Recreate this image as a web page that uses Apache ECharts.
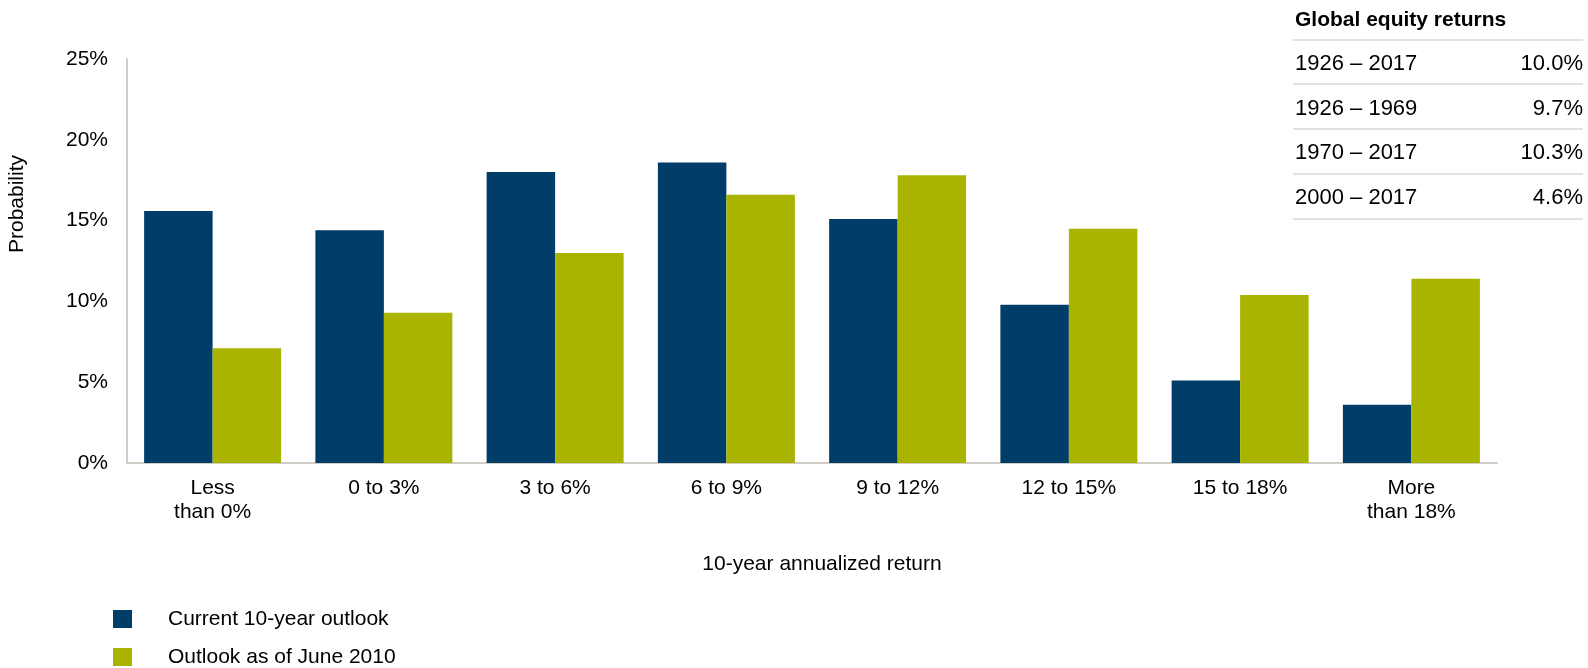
<!DOCTYPE html>
<html>
<head>
<meta charset="utf-8">
<script src="https://cdn.jsdelivr.net/npm/echarts@6/dist/echarts.min.js"></script>
<style>
html,body{margin:0;padding:0;background:#fff;}
#chart{width:1588px;height:668px;}
</style>
</head>
<body>
<div id="chart"></div>
<script>
const categories = ['Less\nthan 0%', '0 to 3%', '3 to 6%', '6 to 9%', '9 to 12%', '12 to 15%', '15 to 18%', 'More\nthan 18%'];
const currentOutlook = [15.6, 14.4, 18.0, 18.6, 15.1, 9.8, 5.1, 3.6];
const june2010Outlook = [7.1, 9.3, 13.0, 16.6, 17.8, 14.5, 10.4, 11.4];
const yTicks = [0, 5, 10, 15, 20, 25];
const tableTitle = 'Global equity returns';
const tablePeriods = ['1926 – 2017', '1926 – 1969', '1970 – 2017', '2000 – 2017'];
const tableReturns = ['10.0%', '9.7%', '10.3%', '4.6%'];

const FONT = '"Liberation Sans", Arial, sans-serif';
const chart = echarts.init(document.getElementById('chart'), null, {renderer: 'canvas'});

const graphics = [];
graphics.push({type: 'text', x: 17, y: 204, rotation: Math.PI / 2,
  style: {text: 'Probability', font: '21px ' + FONT, fill: '#000', align: 'center', verticalAlign: 'middle'}});
graphics.push({type: 'text', x: 822, y: 564,
  style: {text: '10-year annualized return', font: '21px ' + FONT, fill: '#000', align: 'center', verticalAlign: 'middle'}});
graphics.push({type: 'text', x: 1295, y: 20,
  style: {text: tableTitle, font: 'bold 21px ' + FONT, fill: '#000', align: 'left', verticalAlign: 'middle'}});
const lineYs = [40, 84, 129, 174, 219];
lineYs.forEach(y => graphics.push({type: 'line', shape: {x1: 1293, y1: y, x2: 1583, y2: y},
  style: {stroke: '#d9d9d9', lineWidth: 1.5}}));
const rowYs = [64, 109, 153, 198];
tablePeriods.forEach((p, i) => {
  graphics.push({type: 'text', x: 1295, y: rowYs[i],
    style: {text: p, font: '22px ' + FONT, fill: '#000', align: 'left', verticalAlign: 'middle'}});
  graphics.push({type: 'text', x: 1583, y: rowYs[i],
    style: {text: tableReturns[i], font: '22px ' + FONT, fill: '#000', align: 'right', verticalAlign: 'middle'}});
});

const option = {
  animation: false,
  backgroundColor: '#fff',
  textStyle: {fontFamily: FONT},
  grid: {left: 127, right: 91, top: 59, bottom: 205, containLabel: false},
  legend: {
    orient: 'vertical', left: 113, top: 608, padding: 0,
    itemWidth: 19, itemHeight: 18, itemGap: 16,
    icon: 'rect',
    textStyle: {fontSize: 21, lineHeight: 22, color: '#000', fontFamily: FONT, padding: [0, 0, 0, 31]},
    data: ['Current 10-year outlook', 'Outlook as of June 2010']
  },
  xAxis: {
    type: 'category', data: categories,
    axisLine: {lineStyle: {color: '#d0cdc6', width: 2}},
    axisTick: {show: false},
    axisLabel: {color: '#000', fontSize: 21, lineHeight: 24, margin: 13, interval: 0, fontFamily: FONT}
  },
  yAxis: {
    type: 'value', min: yTicks[0], max: yTicks[yTicks.length - 1], interval: 5,
    axisLine: {show: true, lineStyle: {color: '#d0cdc6', width: 2}},
    axisTick: {show: false},
    splitLine: {show: false},
    axisLabel: {color: '#000', fontSize: 21, margin: 19, formatter: '{value}%', fontFamily: FONT}
  },
  series: [
    {name: 'Current 10-year outlook', type: 'bar', data: currentOutlook, barGap: 0, barCategoryGap: '20%',
      itemStyle: {color: '#013d69'}},
    {name: 'Outlook as of June 2010', type: 'bar', data: june2010Outlook, barGap: 0, barCategoryGap: '20%',
      itemStyle: {color: '#a9b400'}}
  ],
  graphic: graphics
};
chart.setOption(option);
</script>
</body>
</html>
